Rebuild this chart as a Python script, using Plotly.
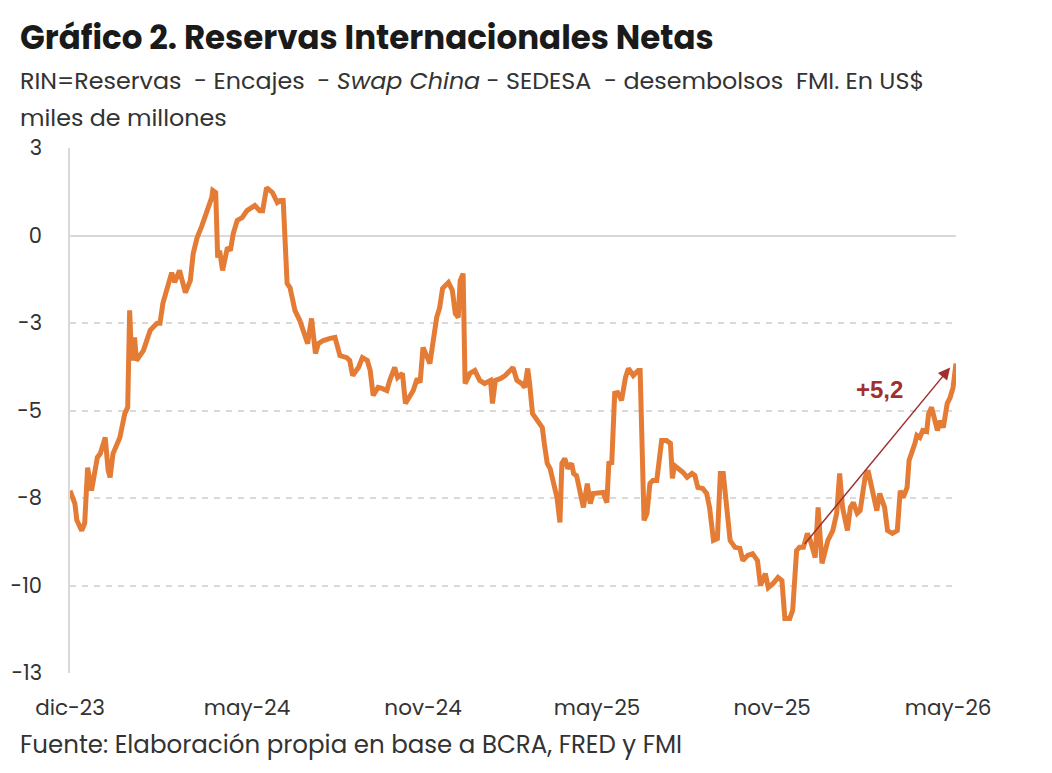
import pandas as pd
import plotly.graph_objs as go

# === DATA (RIN, US$ miles de millones) ===
fechas = [
    "2023-12-01", "2023-12-06", "2023-12-08", "2023-12-13", "2023-12-16", "2023-12-19", "2023-12-23",
    "2023-12-27", "2023-12-29", "2024-01-01", "2024-01-06", "2024-01-09", "2024-01-11", "2024-01-14",
    "2024-01-21", "2024-01-26", "2024-01-29", "2024-01-31", "2024-02-02", "2024-02-05", "2024-02-07",
    "2024-02-14", "2024-02-21", "2024-02-28", "2024-03-02", "2024-03-05", "2024-03-09", "2024-03-14",
    "2024-03-17", "2024-03-22", "2024-03-28", "2024-04-02", "2024-04-05", "2024-04-09", "2024-04-14",
    "2024-04-19", "2024-04-24", "2024-04-25", "2024-04-28", "2024-04-30", "2024-05-02", "2024-05-05",
    "2024-05-10", "2024-05-13", "2024-05-16", "2024-05-20", "2024-05-25", "2024-05-30", "2024-06-04",
    "2024-06-07", "2024-06-12", "2024-06-15", "2024-06-19", "2024-06-25", "2024-06-30", "2024-07-03",
    "2024-07-06", "2024-07-10", "2024-07-13", "2024-07-18", "2024-07-23", "2024-07-28", "2024-07-31",
    "2024-08-04", "2024-08-08", "2024-08-11", "2024-08-16", "2024-08-23", "2024-08-28", "2024-09-02",
    "2024-09-09", "2024-09-12", "2024-09-15", "2024-09-21", "2024-09-25", "2024-09-30", "2024-10-03",
    "2024-10-06", "2024-10-11", "2024-10-15", "2024-10-20", "2024-10-23", "2024-10-28", "2024-10-31",
    "2024-11-05", "2024-11-08", "2024-11-11", "2024-11-16", "2024-11-20", "2024-11-23", "2024-11-26",
    "2024-11-30", "2024-12-03", "2024-12-06", "2024-12-10", "2024-12-13", "2024-12-16", "2024-12-22",
    "2024-12-26", "2024-12-29", "2025-01-01", "2025-01-03", "2025-01-06", "2025-01-08", "2025-01-13",
    "2025-01-18", "2025-01-23", "2025-01-28", "2025-02-03", "2025-02-05", "2025-02-08", "2025-02-13",
    "2025-02-18", "2025-02-23", "2025-02-26", "2025-03-02", "2025-03-07", "2025-03-10", "2025-03-13",
    "2025-03-15", "2025-03-18", "2025-03-23", "2025-03-28", "2025-03-30", "2025-04-02", "2025-04-05",
    "2025-04-08", "2025-04-12", "2025-04-15", "2025-04-17", "2025-04-20", "2025-04-23", "2025-04-27",
    "2025-04-29", "2025-05-02", "2025-05-06", "2025-05-09", "2025-05-13", "2025-05-16", "2025-05-19",
    "2025-05-23", "2025-05-26", "2025-05-29", "2025-06-02", "2025-06-04", "2025-06-07", "2025-06-10",
    "2025-06-13", "2025-06-17", "2025-06-21", "2025-06-24", "2025-06-29", "2025-07-04", "2025-07-06",
    "2025-07-08", "2025-07-10", "2025-07-13", "2025-07-16", "2025-07-19", "2025-07-23", "2025-07-28",
    "2025-08-02", "2025-08-06", "2025-08-08", "2025-08-10", "2025-08-14", "2025-08-19", "2025-08-23",
    "2025-08-28", "2025-08-31", "2025-09-03", "2025-09-08", "2025-09-12", "2025-09-15", "2025-09-19",
    "2025-09-23", "2025-09-26", "2025-09-29", "2025-10-03", "2025-10-06", "2025-10-11", "2025-10-16",
    "2025-10-19", "2025-10-24", "2025-10-29", "2025-11-03", "2025-11-06", "2025-11-11", "2025-11-14",
    "2025-11-19", "2025-11-24", "2025-11-28", "2025-12-01", "2025-12-06", "2025-12-09", "2025-12-13",
    "2025-12-16", "2025-12-20", "2025-12-24", "2025-12-27", "2026-01-01", "2026-01-04", "2026-01-08",
    "2026-01-11", "2026-01-14", "2026-01-19", "2026-01-23", "2026-01-26", "2026-01-29", "2026-02-03",
    "2026-02-06", "2026-02-09", "2026-02-13", "2026-02-16", "2026-02-21", "2026-02-24", "2026-02-28",
    "2026-03-05", "2026-03-08", "2026-03-13", "2026-03-16", "2026-03-21", "2026-03-26", "2026-03-29",
    "2026-04-01", "2026-04-05", "2026-04-07", "2026-04-10", "2026-04-13", "2026-04-15", "2026-04-18",
    "2026-04-21", "2026-04-25", "2026-04-27", "2026-04-30", "2026-05-06", "2026-05-09", "2026-05-12",
    "2026-05-16", "2026-05-19", "2026-05-22", "2026-05-25",
]

rin = [
    -7.29, -7.66, -8.14, -8.43, -8.23, -6.63, -7.29,
    -6.71, -6.34, -6.23, -5.77, -6.71, -6.91, -6.23,
    -5.77, -5.09, -4.91, -2.14, -3.57, -2.91, -3.57,
    -3.29, -2.71, -2.51, -2.51, -1.94, -1.49, -1.06,
    -1.34, -1.00, -1.63, -1.29, -0.51, -0.06, 0.29,
    0.71, 1.09, 1.29, 1.23, -0.63, -0.43, -1.00,
    -0.34, -0.43, 0.06, 0.43, 0.51, 0.71, 0.80,
    0.86, 0.71, 0.71, 1.37, 1.23, 0.94, 1.00,
    1.00, -1.37, -1.49, -2.14, -2.43, -2.80, -3.09,
    -2.37, -3.37, -3.09, -3.00, -2.94, -2.91, -3.43,
    -3.49, -3.57, -4.00, -3.77, -3.49, -3.57, -3.86,
    -4.57, -4.34, -4.37, -4.43, -4.14, -3.77, -4.06,
    -3.94, -4.80, -4.66, -4.43, -4.09, -4.20, -3.20,
    -3.49, -3.66, -3.09, -2.34, -2.06, -1.51, -1.34,
    -1.57, -2.23, -2.34, -1.29, -1.09, -4.23, -3.94,
    -3.86, -4.14, -4.23, -4.14, -4.80, -4.14, -4.09,
    -4.00, -3.86, -3.77, -4.14, -4.23, -4.34, -3.80,
    -4.23, -5.09, -5.29, -5.49, -5.94, -6.51, -6.66,
    -7.09, -7.49, -8.20, -6.51, -6.37, -6.66, -6.51,
    -6.80, -6.86, -7.49, -7.77, -7.09, -7.66, -7.37,
    -7.37, -7.37, -7.34, -7.63, -6.51, -6.49, -4.51,
    -4.49, -4.71, -4.06, -3.80, -4.00, -3.86, -3.86,
    -6.14, -8.14, -7.94, -7.09, -7.00, -7.00, -5.86,
    -5.86, -5.94, -6.94, -6.57, -6.66, -6.77, -6.91,
    -6.80, -6.86, -7.20, -7.23, -7.37, -7.77, -8.71,
    -8.66, -6.80, -6.80, -7.77, -8.71, -8.91, -8.94,
    -9.29, -9.14, -9.09, -9.29, -10.00, -9.66, -10.06,
    -9.94, -9.77, -9.86, -10.94, -10.94, -10.71, -9.00,
    -8.91, -8.91, -8.51, -8.71, -9.20, -7.77, -9.37,
    -9.00, -8.71, -8.43, -7.94, -6.80, -7.77, -8.43,
    -7.77, -7.63, -7.94, -7.86, -6.91, -6.71, -7.29,
    -7.86, -7.37, -7.77, -8.43, -8.51, -8.43, -7.29,
    -7.49, -7.20, -6.43, -6.23, -5.94, -5.71, -5.77,
    -5.57, -5.60, -5.09, -4.91, -5.57, -5.29, -5.49,
    -4.80, -4.63, -4.34, -3.66,
]

# y ticks (labels rounded to integers as in the original)
y_ticks = [2.5, 0, -2.5, -5, -7.5, -10, -12.5]
y_labels = ["3", "0", "-3", "-5", "-8", "-10", "-13"]

# x ticks
x_ticks = ["2023-12-01", "2024-05-30", "2024-11-26", "2025-05-23", "2025-11-18", "2026-05-17"]
x_labels = ["dic-23", "may-24", "nov-24", "may-25", "nov-25", "may-26"]

# arrow annotation
arrow_start = ("2025-12-20", -8.86)
arrow_end = ("2026-05-19", -3.77)
arrow_text = "+5,2"
arrow_text_pos = ("2026-03-08", -4.40)

FONT = "Poppins, Open Sans, sans-serif"
NUMFONT = "Liberation Sans, Arial, sans-serif"
ORANGE = "#E47C36"
DARKRED = "#A0302E"
GRID = "#D9D9D9"

df = pd.DataFrame({"fecha": pd.to_datetime(fechas), "rin": rin})

fig = go.Figure()

fig.add_trace(go.Scatter(
    x=df["fecha"],
    y=df["rin"],
    mode="lines",
    line=dict(color=ORANGE, width=5),
    showlegend=False,
))

# arrow +5,2
fig.add_annotation(
    x=arrow_end[0], y=arrow_end[1],
    ax=arrow_start[0], ay=arrow_start[1],
    xref="x", yref="y", axref="x", ayref="y",
    showarrow=True, arrowhead=2, arrowsize=1.6, arrowwidth=1.5,
    arrowcolor=DARKRED, text="",
)
fig.add_annotation(
    x=arrow_text_pos[0], y=arrow_text_pos[1],
    xref="x", yref="y", showarrow=False,
    text="<b>" + arrow_text + "</b>",
    font=dict(family=NUMFONT, size=24, color=DARKRED),
)

# titles / source
fig.add_annotation(
    x=-0.0587, y=1.211, xref="paper", yref="paper",
    xanchor="left", yanchor="middle", showarrow=False,
    text="<b>Gráfico 2. Reservas Internacionales Netas</b>",
    font=dict(family=FONT, size=32.5, color="#1a1a1a"),
)
fig.add_annotation(
    x=-0.0587, y=1.1295, xref="paper", yref="paper",
    xanchor="left", yanchor="middle", showarrow=False,
    text="RIN=Reservas  - Encajes  - <i>Swap China</i> - SEDESA  - desembolsos  FMI. En US$",
    font=dict(family=FONT, size=23.8, color="#333333"),
)
fig.add_annotation(
    x=-0.0587, y=1.059, xref="paper", yref="paper",
    xanchor="left", yanchor="middle", showarrow=False,
    text="miles de millones",
    font=dict(family=FONT, size=23.8, color="#333333"),
)
fig.add_annotation(
    x=-0.0587, y=-0.137, xref="paper", yref="paper",
    xanchor="left", yanchor="middle", showarrow=False,
    text="Fuente: Elaboración propia en base a BCRA, FRED y FMI",
    font=dict(family=FONT, size=24.5, color="#333333"),
)

# page has an 8px body margin, so the figure is drawn 8px smaller
fig.update_layout(
    width=1044,
    height=765,
    autosize=False,
    margin=dict(l=62, r=96, t=140, b=100),
    plot_bgcolor="white",
    paper_bgcolor="white",
    font=dict(family=FONT, size=19, color="#333333"),
    xaxis=dict(
        range=["2023-12-01", "2026-05-25"],
        tickvals=x_ticks,
        ticktext=x_labels,
        tickfont=dict(family=FONT, size=21.5, color="#333333"),
        showgrid=False,
        showline=False,
        zeroline=False,
        ticks="",
        ticklabelstandoff=19,
        automargin=False,
    ),
    yaxis=dict(
        range=[-12.5, 2.5],
        tickvals=y_ticks,
        ticktext=y_labels,
        tickfont=dict(family=FONT, size=21, color="#333333"),
        showgrid=True,
        gridcolor=GRID,
        gridwidth=1.5,
        griddash="6px,6px",
        zeroline=True,
        zerolinecolor=GRID,
        zerolinewidth=1.5,
        showline=True,
        linecolor=GRID,
        linewidth=1.5,
        ticks="",
        ticklabelstandoff=22,
        automargin=False,
    ),
)

fig.write_html("out.html")
